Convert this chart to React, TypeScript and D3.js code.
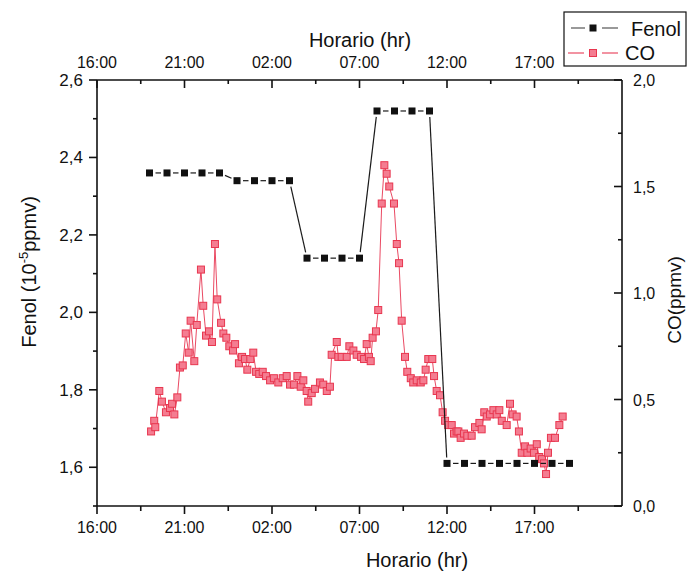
import React from "react";
import * as d3 from "d3";

// ---- Data ----
// Fenol: hours after 16:00, values in 10^-5 ppmv
const fenolHours = [3, 4, 5, 6, 7, 8, 9, 10, 11, 12, 13, 14, 15, 16, 17, 18, 19, 20, 21, 22, 23, 24, 25, 26, 27];
const fenolValues = [
  2.36, 2.36, 2.36, 2.36, 2.36,
  2.34, 2.34, 2.34, 2.34,
  2.14, 2.14, 2.14, 2.14,
  2.52, 2.52, 2.52, 2.52,
  1.61, 1.61, 1.61, 1.61, 1.61, 1.61, 1.61, 1.61,
];

// CO: hours after 16:00, values in ppmv
const coHours = [
  3.09, 3.27, 3.33, 3.56, 3.71, 3.94, 4.17, 4.29, 4.42, 4.59,
  4.74, 4.9, 5.07, 5.24, 5.35, 5.56, 5.7, 5.94, 6.07, 6.23,
  6.4, 6.57, 6.74, 6.87, 7.09, 7.22, 7.39, 7.56, 7.77, 7.89,
  8.11, 8.29, 8.46, 8.59, 8.76, 8.93, 9.09, 9.27, 9.47, 9.66,
  9.89, 10.11, 10.36, 10.61, 10.84, 11.03, 11.26, 11.45, 11.64, 11.79,
  11.98, 12.07, 12.27, 12.46, 12.74, 12.93, 13.13, 13.31, 13.41, 13.7,
  13.79, 13.98, 14.27, 14.42, 14.65, 14.84, 15.09, 15.26, 15.41, 15.54,
  15.64, 15.75, 15.94, 16.07, 16.27, 16.42, 16.55, 16.7, 16.97, 17.13,
  17.26, 17.41, 17.6, 17.73, 17.93, 18.07, 18.27, 18.5, 18.65, 18.78,
  18.93, 19.16, 19.26, 19.41, 19.6, 19.75, 19.89, 20.07, 20.27, 20.4,
  20.55, 20.65, 20.78, 20.97, 21.16, 21.41, 21.6, 21.85, 21.98, 22.13,
  22.27, 22.46, 22.65, 22.84, 22.99, 23.13, 23.41, 23.6, 23.75, 23.98,
  24.11, 24.27, 24.46, 24.59, 24.78, 24.97, 25.13, 25.27, 25.43, 25.54,
  25.66, 25.77, 25.94, 26.17, 26.42, 26.61,
];
const coValues = [
  0.35, 0.4, 0.37, 0.54, 0.49, 0.44, 0.46, 0.48, 0.43, 0.51,
  0.65, 0.66, 0.81, 0.72, 0.87, 0.68, 0.85, 1.11, 0.94, 0.8,
  0.82, 0.77, 1.23, 0.97, 0.86, 0.81, 0.79, 0.75, 0.73, 0.76,
  0.67, 0.7, 0.69, 0.64, 0.69, 0.72, 0.63, 0.62, 0.63, 0.61,
  0.59, 0.6, 0.58, 0.6, 0.61, 0.57, 0.57, 0.61, 0.56, 0.59,
  0.54, 0.49, 0.53, 0.55, 0.58, 0.57, 0.54, 0.56, 0.71, 0.77,
  0.7, 0.7, 0.7, 0.75, 0.73, 0.71, 0.7, 0.69, 0.76, 0.7,
  0.68, 0.79, 0.82, 0.92, 1.42, 1.6, 1.56, 1.5, 1.42, 1.23,
  1.14, 0.87, 0.7, 0.63, 0.6, 0.58, 0.59, 0.58, 0.59, 0.64,
  0.69, 0.69, 0.61, 0.54, 0.52, 0.44, 0.4, 0.38, 0.38, 0.34,
  0.35, 0.35, 0.32, 0.34, 0.33, 0.33, 0.37, 0.39, 0.36, 0.44,
  0.42, 0.43, 0.45, 0.43, 0.45, 0.4, 0.38, 0.48, 0.43, 0.42,
  0.35, 0.25, 0.28, 0.25, 0.27, 0.25, 0.29, 0.23, 0.22, 0.2,
  0.15, 0.25, 0.32, 0.32, 0.38, 0.42,
];

// Axis ticks
const xTickHours = [0, 5, 10, 15, 20, 25];
const xTickLabels = ["16:00", "21:00", "02:00", "07:00", "12:00", "17:00"];
const xMinorHours = [2.5, 7.5, 12.5, 17.5, 22.5, 27.5];
const fenolTicks = [1.6, 1.8, 2.0, 2.2, 2.4, 2.6];
const fenolMinor = [1.5, 1.7, 1.9, 2.1, 2.3, 2.5];
const coTicks = [0, 0.5, 1.0, 1.5, 2.0];
const coMinor = [0.25, 0.75, 1.25, 1.75];

const W = 689;
const H = 573;
const L = 97, R = 622, T = 80, B = 506;
const FONT = "'Liberation Sans', Arial, sans-serif";

const fmt = (v: number) => d3.format(".1f")(v).replace(".", ",");

export default function App() {
  const x = d3.scaleLinear().domain([0, 30]).range([L, R]);
  const yF = d3.scaleLinear().domain([1.5, 2.6]).range([B, T]);
  const yC = d3.scaleLinear().domain([0, 2]).range([B, T]);

  const fenolData = fenolHours.map((h, i) => [h, fenolValues[i]] as [number, number]);
  const coData = coHours.map((h, i) => [h, coValues[i]] as [number, number]);

  const coLine = d3.line<[number, number]>().x((d) => x(d[0])).y((d) => yC(d[1]))(coData) || "";

  // Fenol connecting segments, with a small gap next to each marker
  const gap = 6;
  const fenolSegs = d3.pairs(fenolData).map(([a, b]) => {
    const x1 = x(a[0]), y1 = yF(a[1]), x2 = x(b[0]), y2 = yF(b[1]);
    const len = Math.hypot(x2 - x1, y2 - y1);
    const ux = (x2 - x1) / len, uy = (y2 - y1) / len;
    return { x1: x1 + ux * gap, y1: y1 + uy * gap, x2: x2 - ux * gap, y2: y2 - uy * gap };
  });

  const ms = 7;
  const axisStroke = { stroke: "#111", strokeWidth: 1.6 };

  return (
    <div style={{ position: "absolute", left: 0, top: 0 }}>
      <svg width={W} height={H} style={{ display: "block", background: "#fff", fontFamily: FONT }}>
        {/* CO series */}
        <path d={coLine} fill="none" stroke="#ea4a63" strokeWidth={1} />
        {coData.map((d, i) => (
          <rect
            key={"c" + i}
            x={x(d[0]) - ms / 2}
            y={yC(d[1]) - ms / 2}
            width={ms}
            height={ms}
            fill="#f47d91"
            stroke="#e8364f"
            strokeWidth={1}
          />
        ))}

        {/* Fenol series */}
        {fenolSegs.map((s, i) => (
          <line key={"fs" + i} x1={s.x1} y1={s.y1} x2={s.x2} y2={s.y2} stroke="#1a1a1a" strokeWidth={1.2} />
        ))}
        {fenolData.map((d, i) => (
          <rect
            key={"f" + i}
            x={x(d[0]) - ms / 2}
            y={yF(d[1]) - ms / 2}
            width={ms}
            height={ms}
            fill="#111"
          />
        ))}

        {/* Frame */}
        <line x1={L} x2={R} y1={B} y2={B} {...axisStroke} />
        <line x1={L} x2={R} y1={T} y2={T} {...axisStroke} />
        <line x1={L} x2={L} y1={T} y2={B} {...axisStroke} />
        <line x1={R} x2={R} y1={T} y2={B} {...axisStroke} />

        {/* Bottom axis (outward ticks) */}
        {xTickHours.map((h, i) => (
          <g key={"bx" + i}>
            <line x1={x(h)} x2={x(h)} y1={B} y2={B + 8} {...axisStroke} />
            <text x={x(h)} y={533} textAnchor="middle" fontSize={16} fill="#111">
              {xTickLabels[i]}
            </text>
          </g>
        ))}
        {xMinorHours.map((h, i) => (
          <line key={"bm" + i} x1={x(h)} x2={x(h)} y1={B} y2={B + 5} {...axisStroke} />
        ))}

        {/* Top axis (inward ticks) */}
        {xTickHours.map((h, i) => (
          <g key={"tx" + i}>
            <line x1={x(h)} x2={x(h)} y1={T} y2={T + 8} {...axisStroke} />
            <text x={x(h)} y={68} textAnchor="middle" fontSize={16} fill="#111">
              {xTickLabels[i]}
            </text>
          </g>
        ))}
        {xMinorHours.map((h, i) => (
          <line key={"tm" + i} x1={x(h)} x2={x(h)} y1={T} y2={T + 4} {...axisStroke} />
        ))}

        {/* Left axis (outward ticks) */}
        {fenolTicks.map((v, i) => (
          <g key={"ly" + i}>
            <line x1={L - 8} x2={L} y1={yF(v)} y2={yF(v)} {...axisStroke} />
            <text x={L - 14} y={yF(v) + 6} textAnchor="end" fontSize={17} fill="#111">
              {fmt(v)}
            </text>
          </g>
        ))}
        {fenolMinor.map((v, i) => (
          <line key={"lm" + i} x1={L - 4} x2={L} y1={yF(v)} y2={yF(v)} {...axisStroke} />
        ))}

        {/* Right axis (inward ticks) */}
        {coTicks.map((v, i) => (
          <g key={"ry" + i}>
            <line x1={R - 8} x2={R} y1={yC(v)} y2={yC(v)} {...axisStroke} />
            <text x={R + 11} y={yC(v) + 6} textAnchor="start" fontSize={16} fill="#111">
              {fmt(v)}
            </text>
          </g>
        ))}
        {coMinor.map((v, i) => (
          <line key={"rm" + i} x1={R - 4} x2={R} y1={yC(v)} y2={yC(v)} {...axisStroke} />
        ))}

        {/* Axis titles */}
        <text x={360} y={47} textAnchor="middle" fontSize={20} fill="#111">Horario (hr)</text>
        <text x={417} y={567} textAnchor="middle" fontSize={20} fill="#111">Horario (hr)</text>
        <text transform="translate(36,272) rotate(-90)" textAnchor="middle" fontSize={20} fill="#111">
          Fenol (10<tspan dy={-8} fontSize={13}>-5</tspan><tspan dy={8}>ppmv)</tspan>
        </text>
        <text transform="translate(681,300) rotate(-90)" textAnchor="middle" fontSize={19} fill="#111">
          CO(ppmv)
        </text>

        {/* Legend */}
        <rect x={564} y={12} width={122} height={54} fill="#fff" stroke="#111" strokeWidth={1.2} />
        <line x1={571} x2={585} y1={28} y2={28} stroke="#555" strokeWidth={1.2} />
        <line x1={602} x2={618} y1={28} y2={28} stroke="#555" strokeWidth={1.2} />
        <rect x={593 - 3.5} y={28 - 3.5} width={7} height={7} fill="#111" />
        <text x={631} y={36} fontSize={20} fill="#111">Fenol</text>
        <line x1={568} x2={584} y1={53} y2={53} stroke="#ea4a63" strokeWidth={1.2} />
        <line x1={602} x2={618} y1={53} y2={53} stroke="#ea4a63" strokeWidth={1.2} />
        <rect x={593 - 3.5} y={53 - 3.5} width={7} height={7} fill="#f47d91" stroke="#e8364f" strokeWidth={1} />
        <text x={625} y={60} fontSize={20} fill="#111">CO</text>
      </svg>
    </div>
  );
}
